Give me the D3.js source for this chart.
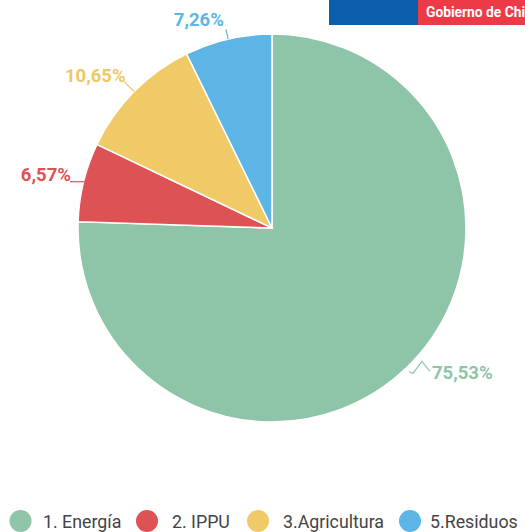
<!DOCTYPE html>
<html><head><meta charset="utf-8">
<script src="https://cdn.jsdelivr.net/npm/d3@7"></script>
<style>body{margin:0;background:#fff;}svg{display:block;}</style>
</head><body>
<svg id="chart" width="525" height="532"></svg>
<script>
const categories = ["1. Energía", "2. IPPU", "3.Agricultura", "5.Residuos"];
const values = [75.53, 6.57, 10.65, 7.26];
const valueLabels = ["75,53%", "6,57%", "10,65%", "7,26%"];
const colors = ["#8ec4a7", "#dd5254", "#f0ca66", "#5db5e5"];
const labelColors = ["#8ec4a7", "#dd5254", "#efc766", "#5db5e5"];
const headerText = "Gobierno de Chi";

const svg = d3.select("#chart");
const cx = 272, cy = 228, R = 194;

// header banner
svg.append("rect").attr("x", 329).attr("y", 0).attr("width", 90).attr("height", 25).attr("fill", "#0b5ea9");
svg.append("rect").attr("x", 418).attr("y", 0).attr("width", 107).attr("height", 25).attr("fill", "#ec3b47");
svg.append("text").attr("x", 426).attr("y", 17).text(headerText)
  .attr("fill", "#fff").attr("font-family", "Roboto, 'Open Sans', sans-serif").attr("font-weight", "bold").attr("font-size", 13.8);

const data = categories.map((c, i) => ({cat: c, value: values[i], label: valueLabels[i], i}));
const pie = d3.pie().value(d => d.value).sort(null);
const arcs = pie(data);
const arc = d3.arc().innerRadius(0).outerRadius(R);

const g = svg.append("g").attr("transform", `translate(${cx},${cy})`);
g.selectAll("path.slice").data(arcs).enter().append("path")
  .attr("class", "slice")
  .attr("d", arc)
  .attr("fill", d => colors[d.data.i])
  .attr("stroke", "#fff").attr("stroke-width", 1.5);

function pt(a, r) { return [Math.sin(a) * r, -Math.cos(a) * r]; }

arcs.forEach(d => {
  const mid = (d.startAngle + d.endAngle) / 2;
  const col = labelColors[d.data.i];
  const E = pt(mid, R);
  const right = Math.sin(mid) > 0;
  let pts, tx, ty, anchor;
  if (right) {
    pts = [[E[0] + 2, E[1] + 4], [E[0] + 6, E[1] + 6], [E[0] + 15, E[1] - 6], [E[0] + 23, E[1] + 4]];
    tx = E[0] + 25; ty = E[1] + 11.5; anchor = "start";
  } else {
    const ext = d.data.i === 3 ? 10 : 14;
    const O = pt(mid, R + ext);
    if (d.data.i === 1) {
      pts = [[E[0] + 1, O[1] + 3], [O[0], O[1] + 3]];
      tx = O[0] + 1; ty = O[1] + 2;
    } else {
      pts = [E, O];
      tx = O[0] + (d.data.i === 3 ? -2 : 1.5); ty = O[1] + (d.data.i === 3 ? -3.5 : 0.5);
    }
    anchor = "end";
  }
  g.append("path").attr("d", d3.line()(pts)).attr("fill", "none").attr("stroke", col).attr("stroke-width", 1.2);
  g.append("text").attr("x", tx).attr("y", ty).attr("text-anchor", anchor)
    .attr("fill", col).attr("font-family", "Roboto, sans-serif").attr("font-weight", "bold").attr("font-size", 18.5)
    .text(d.data.label);
});

// legend
const legendCircleX = [20.5, 147, 258, 410];
const legendTextX = [43, 172, 283, 430];
const legend = svg.append("g");
data.forEach((d, i) => {
  legend.append("circle").attr("cx", legendCircleX[i]).attr("cy", 521).attr("r", 11).attr("fill", colors[i]);
  legend.append("text").attr("x", legendTextX[i]).attr("y", 527.5).text(d.cat)
    .attr("fill", "#444").attr("font-family", "Roboto, sans-serif").attr("font-size", 17.8);
});
</script>
</body></html>
